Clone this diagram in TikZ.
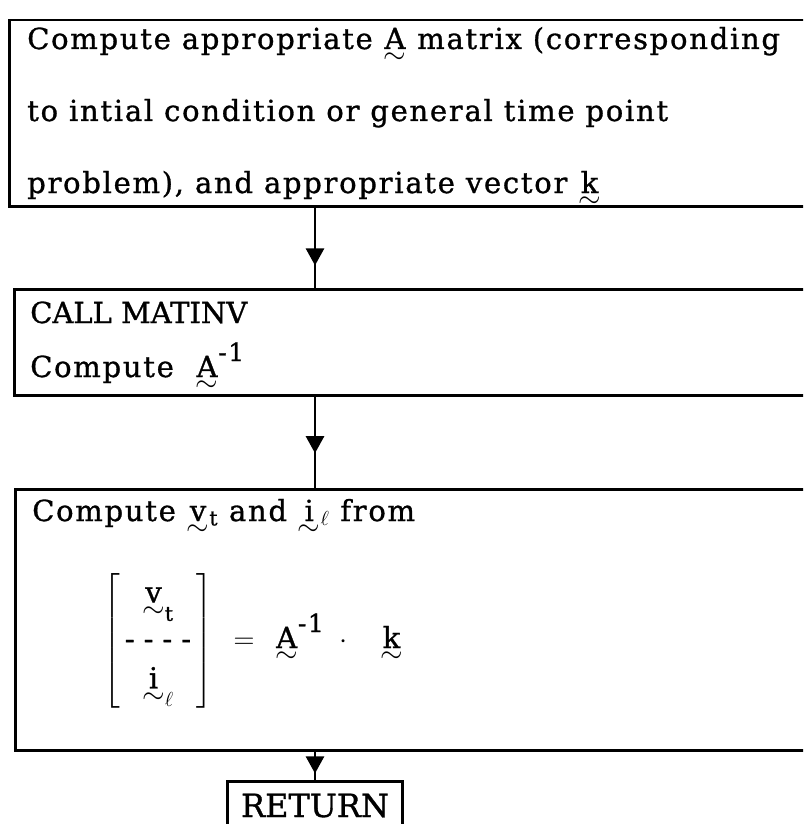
\documentclass[tikz,border=0pt]{standalone}
\usepackage{fix-cm}
\usepackage{amsmath}
\usepackage{fontspec}
\setmainfont[LetterSpace=6,FakeBold=1]{DejaVu Serif}
\newfontfamily\capsfont[FakeBold=1]{DejaVu Serif}
\usetikzlibrary{arrows.meta,decorations.markings}
\newcommand{\uv}[1]{\ensuremath{\underset{\textstyle\sim}{\text{#1}}}}
\newcommand{\invsup}{\raisebox{16pt}{\fontsize{25}{25}\selectfont -1}}
\begin{document}
\begin{tikzpicture}[x=1pt,y=-1pt,line width=2.5pt,
        frame/.style={draw,anchor=north west,inner sep=0pt},
        txt/.style={anchor=base west,inner sep=0pt,font=\fontsize{29}{33}\selectfont},
        flow/.style={postaction={decorate},decoration={markings,
          mark=at position #1 with {\arrow{Triangle[width=18pt,length=17pt]}}}}]
        \useasboundingbox (0,0) rectangle (803,824);
        \clip (0,0) rectangle (803,824);
        \node[frame,minimum width=822pt,minimum height=186pt] (setup) at (8,19) {};
        \node[frame,minimum width=817pt,minimum height=106pt] (inv) at (13,288) {};
        \node[frame,minimum width=816pt,minimum height=261pt] (solve) at (14,488) {};
        \node[frame,anchor=north,minimum width=175pt,minimum height=60pt] (ret) at (315,780) {};
        \node[txt,anchor=base,font=\fontsize{32}{36}\capsfont] (rettxt) at (315,817) {RETURN};
        \node[txt] (l1) at (26,49) {Compute appropriate \uv{A} matrix (corresponding};
        \node[txt] (l2) at (26,121) {to intial condition or general time point};
        \node[txt] (l3) at (26,193) {problem), and appropriate vector \uv{k}};
        \node[txt] (call) at (29,323) {\capsfont CALL MATINV};
        \node[txt] (cinv) at (29,377) {Compute\ \ \uv{A}\invsup};
        \node[txt] (from) at (31,521) {Compute \uv{v}$_{\text{t}}$ and \uv{i}$_{\ell}$ from};
        \node[txt] (eqn) at (102,648) {\renewcommand{\arraystretch}{1.2}$\left[\begin{array}{c}
          \uv{v}_{\text{t}}\\ \text{-\kern9pt-\kern9pt-\kern9pt-}\\ \uv{i}_{\ell}
          \end{array}\right]\mkern10mu{=}\mkern13mu\uv{A}\invsup\mkern10mu{\cdot}\mkern20mu\uv{k}$};
        \draw[flow=0.72] (setup.south -| ret) -- (inv.north -| ret);
        \draw[flow=0.62] (inv.south -| ret) -- (solve.north -| ret);
        \draw[flow=0.77] (solve.south -| ret) -- (ret.north);
\end{tikzpicture}
\end{document}
